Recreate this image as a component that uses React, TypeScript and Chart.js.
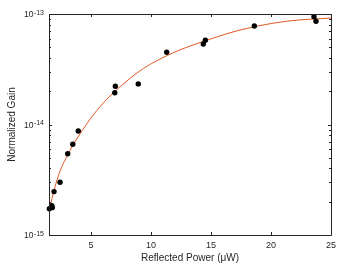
import React, { useEffect, useRef } from "react";
import { Chart, registerables } from "chart.js";

Chart.register(...registerables);

// Measured data points (Reflected power in µW, normalized gain)
const powerMeasured = [1.53, 1.73, 1.78, 1.92, 2.42, 3.06, 3.48, 3.94, 6.98, 7.03, 8.94, 11.31, 14.36, 14.53, 18.61, 23.58, 23.75];
const gainMeasured = [1.73e-15, 1.84e-15, 1.77e-15, 2.47e-15, 3.0e-15, 5.44e-15, 6.62e-15, 8.73e-15, 1.94e-14, 2.22e-14, 2.33e-14, 4.5e-14, 5.35e-14, 5.78e-14, 7.79e-14, 9.46e-14, 8.59e-14];

// Fitted curve
const powerFit = [1.5, 1.58, 1.86, 2.14, 2.42, 3.06, 3.44, 4.08, 5.19, 6.31, 7.28, 9.36, 12.0, 14.64, 16.58, 18.58, 21.58, 25.0];
const gainFit = [1.63e-15, 1.79e-15, 2.39e-15, 3.08e-15, 3.8e-15, 5.33e-15, 6.35e-15, 8.22e-15, 1.22e-14, 1.69e-14, 2.13e-14, 3.21e-14, 4.53e-14, 5.78e-14, 6.76e-14, 7.66e-14, 8.67e-14, 9.2e-14];

const xTicks = [5, 10, 15, 20, 25];
const yTickExponents = [-15, -14, -13];
const xTitle = "Reflected Power (\u03bcW)";
const yTitle = "Normalized Gain";

const AXIS_COLOR = "#262626";
const FONT = "'Liberation Sans', Arial, Helvetica, sans-serif";

const boxPlugin = {
  id: "boxTicks",
  afterDraw(chart: any) {
    const { ctx, chartArea } = chart;
    const { left, right, top, bottom } = chartArea;
    const xs = chart.scales.x;
    const ys = chart.scales.y;
    ctx.save();
    ctx.strokeStyle = AXIS_COLOR;
    ctx.lineWidth = 1;
    ctx.beginPath();
    ctx.rect(Math.round(left) + 0.5, Math.round(top) + 0.5, Math.round(right - left), Math.round(bottom - top));
    ctx.stroke();
    ctx.beginPath();
    for (const v of xTicks) {
      const px = Math.round(xs.getPixelForValue(v)) + 0.5;
      ctx.moveTo(px, bottom);
      ctx.lineTo(px, bottom - 3);
      ctx.moveTo(px, top);
      ctx.lineTo(px, top + 3);
    }
    for (let i = 0; i < yTickExponents.length; i++) {
      const e = yTickExponents[i];
      const py = Math.round(ys.getPixelForValue(Math.pow(10, e))) + 0.5;
      ctx.moveTo(left, py);
      ctx.lineTo(left + 3, py);
      ctx.moveTo(right, py);
      ctx.lineTo(right - 3, py);
      if (i < yTickExponents.length - 1) {
        for (let m = 2; m <= 9; m++) {
          const pm = Math.round(ys.getPixelForValue(m * Math.pow(10, e))) + 0.5;
          ctx.moveTo(left, pm);
          ctx.lineTo(left + 2, pm);
          ctx.moveTo(right, pm);
          ctx.lineTo(right - 2, pm);
        }
      }
    }
    ctx.stroke();
    ctx.fillStyle = AXIS_COLOR;
    ctx.textBaseline = "alphabetic";
    for (const e of yTickExponents) {
      const py = ys.getPixelForValue(Math.pow(10, e));
      const sup = String(e);
      ctx.font = `7px ${FONT}`;
      const supW = ctx.measureText(sup).width;
      const endX = left - 5;
      ctx.textAlign = "left";
      ctx.fillText(sup, endX - supW, py + 0.5);
      ctx.font = `8.5px ${FONT}`;
      ctx.textAlign = "right";
      ctx.fillText("10", endX - supW - 0.5, py + 3);
    }
    ctx.restore();
  },
};

export default function App() {
  const ref = useRef<HTMLCanvasElement | null>(null);
  useEffect(() => {
    if (!ref.current) return;
    const chart = new Chart(ref.current, {
      type: "scatter",
      data: {
        datasets: [
          {
            label: "measured",
            data: powerMeasured.map((x, i) => ({ x, y: gainMeasured[i] })),
            backgroundColor: "#000000",
            borderColor: "#000000",
            pointRadius: 2.7,
            pointBorderWidth: 0,
            showLine: false,
            clip: 6,
          } as any,
          {
            label: "fit",
            data: powerFit.map((x, i) => ({ x, y: gainFit[i] })),
            borderColor: "#DF5A22",
            borderWidth: 1,
            pointRadius: 0,
            showLine: true,
            cubicInterpolationMode: "monotone",
          } as any,
        ],
      },
      options: {
        responsive: false,
        animation: false,
        layout: { padding: { left: 0, right: 19, top: 14, bottom: 0 } },
        plugins: { legend: { display: false }, tooltip: { enabled: false } },
        scales: {
          x: {
            type: "linear",
            min: 1.5,
            max: 25,
            grid: { display: false, drawTicks: false },
            border: { display: false },
            afterBuildTicks: (s: any) => {
              s.ticks = xTicks.map((v) => ({ value: v }));
            },
            afterFit: (s: any) => {
              s.height = 35;
            },
            ticks: {
              padding: 5,
              color: AXIS_COLOR,
              font: { family: FONT, size: 9 },
              maxRotation: 0,
              autoSkip: false,
            },
            title: {
              display: true,
              text: xTitle,
              color: AXIS_COLOR,
              font: { family: FONT, size: 10 },
              padding: { top: 0, bottom: 6 },
            },
          },
          y: {
            type: "logarithmic",
            min: 1e-15,
            max: 1e-13,
            grid: { display: false, drawTicks: false },
            border: { display: false },
            afterBuildTicks: (s: any) => {
              s.ticks = yTickExponents.map((e) => ({ value: Math.pow(10, e) }));
            },
            afterFit: (s: any) => {
              s.width = 49;
            },
            ticks: { display: false },
            title: {
              display: true,
              text: yTitle,
              color: AXIS_COLOR,
              font: { family: FONT, size: 10 },
              padding: { top: 6, bottom: 0 },
            },
          },
        },
      },
      plugins: [boxPlugin],
    });
    return () => chart.destroy();
  }, []);
  return (
    <canvas
      ref={ref}
      width={350}
      height={270}
      style={{ position: "absolute", left: 0, top: 0, width: 350, height: 270 }}
    />
  );
}
